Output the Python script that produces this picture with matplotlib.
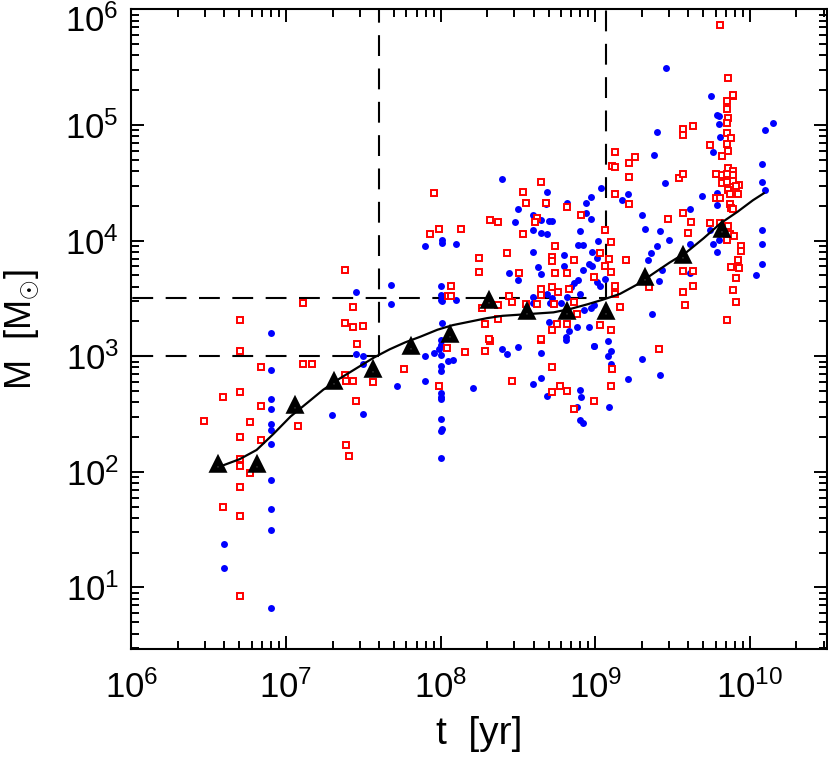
import numpy as np
import matplotlib
matplotlib.use("Agg")
import matplotlib.pyplot as plt
from matplotlib.ticker import LogLocator, NullFormatter, FuncFormatter

plt.rcParams['font.family'] = ['Liberation Sans', 'DejaVu Sans']
plt.rcParams['mathtext.fontset'] = 'custom'
plt.rcParams['mathtext.rm'] = 'Liberation Sans'
plt.rcParams['mathtext.it'] = 'Liberation Sans'

# log10(t/yr), log10(M/Msun)
blue_logt = [6.90, 6.90, 6.90, 6.90, 6.90, 6.90, 6.90, 6.90, 6.90, 6.90,
             6.60, 6.60, 7.45, 7.50, 7.50, 7.30, 7.50, 7.72, 7.90, 7.90, 7.96,
             8.00, 8.00, 8.00, 8.00, 8.00, 8.00, 8.00, 8.00, 8.01, 8.00,
             8.05, 8.08, 8.21,
             8.40, 8.43, 8.50, 8.65, 8.65, 8.60, 8.69, 8.90, 8.91, 8.88, 8.90, 8.92,
             8.99, 9.08, 9.10, 9.08, 9.10, 9.09, 9.21, 9.30, 9.42, 8.81,
             6.90, 7.45, 7.68, 7.68, 7.90, 8.01, 8.01, 8.10, 8.00, 8.00, 8.00, 8.01,
             8.10, 8.01, 8.00, 8.00, 7.99,
             9.46, 9.75, 9.79, 9.80, 9.80, 9.81, 10.15, 10.10, 9.40, 9.76, 9.38,
             10.08, 10.08, 10.10, 9.45, 9.69, 9.79, 9.79, 9.61, 9.30, 9.32, 9.42,
             9.48, 9.74, 9.76, 9.79, 9.61, 9.40, 9.36, 9.34, 9.43, 9.41, 9.37,
             10.08, 10.08, 10.08, 10.04,
             8.40, 8.69, 8.68, 8.50, 8.60, 8.65, 8.70, 8.72, 8.60, 8.65, 8.69, 8.48,
             8.82, 8.94, 8.97, 9.04, 9.21, 9.17, 8.91, 8.94, 8.97, 8.90, 8.89, 8.92,
             9.02, 8.98, 9.01, 8.80, 8.80, 8.60, 8.63, 8.65, 8.44, 8.50, 8.92, 8.98,
             8.96, 8.86, 8.89, 8.84, 8.82, 8.90, 9.03, 9.01, 9.06, 8.99, 8.97, 8.93,
             8.78, 8.72, 8.71, 8.69, 8.60, 8.60, 8.70, 8.83, 8.81, 8.88, 8.96, 8.99,
             9.80, 9.61]
blue_logm = [2.88, 2.63, 2.54, 2.41, 2.36, 2.24, 1.93, 1.68, 1.50, 0.82,
             1.38, 1.17, 3.02, 3.00, 2.93, 2.49, 2.50, 2.74, 2.79, 3.00, 3.03,
             3.01, 2.92, 2.87, 2.68, 2.65, 2.63, 2.46, 2.35, 2.37, 2.12,
             2.96, 2.97, 2.73,
             3.06, 3.02, 3.08, 3.03, 2.81, 2.76, 2.66, 2.71, 2.65, 2.56, 2.45, 2.42,
             3.09, 3.00, 3.05, 3.13, 2.93, 2.56, 2.80, 2.98, 2.84, 3.14,
             3.20, 3.56, 3.62, 3.45, 3.95, 4.01, 3.98, 3.97, 3.61, 3.53, 3.49, 3.48,
             3.49, 3.29, 3.14, 3.10, 3.06,
             5.49, 5.25, 5.09, 5.08, 5.01, 4.90, 5.02, 4.96, 4.94, 4.77, 4.74,
             4.66, 4.51, 4.44, 4.50, 4.39, 4.41, 4.31, 4.27, 4.22, 4.10, 4.08,
             4.01, 4.09, 3.97, 3.90, 3.97, 3.95, 3.89, 3.83, 3.75, 3.65, 3.37,
             4.09, 3.97, 3.80, 3.70,
             4.53, 4.42, 4.32, 4.27, 4.22, 4.18, 4.17, 4.17, 4.09, 4.07, 4.06, 4.16,
             4.33, 4.33, 4.38, 4.46, 4.40, 4.35, 4.22, 4.24, 4.19, 4.08, 3.96, 3.96,
             4.00, 3.90, 3.85, 3.88, 3.78, 3.90, 3.77, 3.71, 3.72, 3.66, 3.75, 3.78,
             3.80, 3.63, 3.66, 3.60, 3.51, 3.54, 3.61, 3.64, 3.67, 3.44, 3.42, 3.40,
             3.46, 3.50, 3.46, 3.54, 3.51, 3.46, 3.30, 3.22, 3.17, 3.25, 3.25, 3.09,
             4.01, 3.72]

red_logt = [6.47, 6.59, 6.70, 6.70, 6.70, 6.70, 6.70, 6.70, 6.70, 6.59, 6.77, 6.77,
            6.84, 6.84, 6.84, 6.70, 7.11, 7.17, 7.08, 7.38, 7.43, 7.39, 7.45, 7.39,
            7.41, 7.56, 7.46, 7.76, 7.99, 8.04, 8.16, 8.29,
            8.32, 8.65, 8.46, 8.72, 8.72, 8.77, 8.82, 8.86, 8.99, 9.11, 9.10, 9.41,
            7.96, 7.93, 7.99, 8.13, 8.25, 8.25, 8.32, 7.38, 7.11, 7.43, 6.70, 7.38,
            7.43, 7.50, 8.07, 8.05, 8.07, 8.27, 8.29, 8.31,
            9.81, 9.86, 9.89, 9.89, 9.85, 9.85, 9.86, 9.85, 9.57, 9.63, 9.57, 9.85,
            9.88, 9.85, 9.74, 9.86, 9.82,
            9.13, 9.26, 9.22, 9.11, 9.13, 9.22, 9.54, 9.57, 8.65, 9.13, 9.22, 8.53,
            8.55, 8.68, 8.82, 8.91, 8.62, 8.37, 8.61, 8.53, 9.47, 9.57, 9.62, 9.60,
            9.06, 9.10, 9.03, 9.09, 9.20, 9.06, 9.10, 8.99, 9.13, 9.13, 9.16, 9.03,
            9.10, 9.35, 9.57, 9.63, 9.57, 9.63, 9.58,
            8.43, 8.51, 8.72, 8.72, 8.74, 8.86, 8.74, 8.82, 8.44, 8.46, 8.37, 8.55,
            8.62, 8.65, 8.65, 8.72, 8.73, 8.76, 8.83, 8.86, 8.88, 8.37, 8.65, 8.72,
            8.75, 8.82,
            9.86, 9.89, 9.78, 9.82, 9.85, 9.89, 9.82, 9.85, 9.89, 9.93, 9.91, 9.86,
            9.92, 9.87, 9.78, 9.81, 9.87, 9.88, 9.89, 9.74, 9.81, 9.86, 9.87, 9.90,
            9.85, 9.94, 9.94, 9.92, 9.88, 9.93, 9.91, 9.89, 9.91, 9.85]
red_logm = [2.44, 2.65, 3.05, 2.69, 2.30, 2.11, 2.05, 1.87, 1.62, 1.70, 1.99, 2.43,
            2.91, 2.57, 2.28, 0.93, 2.93, 2.93, 2.40, 2.84, 2.79, 2.79, 2.61, 2.23,
            2.14, 2.78, 3.11, 2.89, 2.74, 3.07, 3.04, 3.05,
            3.13, 3.14, 2.79, 2.91, 2.69, 2.74, 2.70, 2.54, 2.61, 2.89, 2.74, 3.06,
            4.41, 4.06, 4.10, 4.10, 3.85, 3.73, 4.18, 3.75, 3.46, 3.43, 3.31, 3.29,
            3.25, 3.26, 3.61, 3.52, 3.52, 3.42, 3.28, 3.15,
            5.87, 5.41, 5.25, 5.26, 5.21, 5.14, 5.06, 5.02, 4.97, 4.99, 4.91, 4.93,
            4.89, 4.84, 4.83, 4.78, 4.73,
            4.77, 4.72, 4.67, 4.65, 4.64, 4.55, 4.54, 4.58, 4.51, 4.40, 4.32, 4.42,
            4.33, 4.33, 4.29, 4.22, 4.20, 4.16, 4.16, 4.06, 4.19, 4.24, 4.16, 4.07,
            4.09, 3.99, 3.89, 3.84, 3.83, 3.78, 3.73, 3.69, 3.61, 3.54, 3.43, 3.27,
            3.23, 3.60, 3.74, 3.74, 3.56, 3.61, 3.44,
            3.89, 3.72, 3.86, 3.82, 3.95, 3.83, 3.72, 3.72, 3.52, 3.47, 3.44, 3.45,
            3.45, 3.58, 3.53, 3.60, 3.45, 3.56, 3.58, 3.47, 3.37, 3.32, 3.15, 3.23,
            3.28, 3.28,
            4.63, 4.60, 4.58, 4.57, 4.58, 4.57, 4.50, 4.51, 4.52, 4.48, 4.47, 4.44,
            4.40, 4.40, 4.37, 4.37, 4.32, 4.28, 4.27, 4.15, 4.15, 4.13, 4.06, 4.04,
            4.01, 3.95, 3.91, 3.83, 3.77, 3.76, 3.68, 3.57, 3.47, 3.31]

# binned medians (triangles)
tri_logt = [6.56, 6.81, 7.06, 7.31, 7.56, 7.81, 8.06, 8.31, 8.56, 8.82, 9.07, 9.32, 9.57, 9.82]
tri_logm = [2.06, 2.06, 2.57, 2.78, 2.88, 3.08, 3.18, 3.48, 3.38, 3.38, 3.38, 3.68, 3.87, 4.09]

# smooth fit curve
fit_logt = [6.58, 6.70, 6.81, 6.92, 7.03, 7.14, 7.24, 7.35, 7.46, 7.57, 7.67, 7.77,
            7.87, 7.98, 8.08, 8.19, 8.30, 8.40, 8.51, 8.62, 8.73, 8.84, 8.95, 9.05,
            9.16, 9.27, 9.38, 9.48, 9.59, 9.70, 9.81, 9.92, 10.02, 10.09]
fit_logm = [2.05, 2.11, 2.19, 2.33, 2.48, 2.60, 2.71, 2.81, 2.90, 2.99, 3.06, 3.12,
            3.17, 3.23, 3.27, 3.30, 3.33, 3.35, 3.36, 3.37, 3.38, 3.41, 3.45, 3.49,
            3.54, 3.62, 3.72, 3.81, 3.90, 4.02, 4.15, 4.25, 4.35, 4.41]

t_cut = [4.0e7, 1.17e9]
m_cut = [1.0e3, 10**3.5]

fig = plt.figure(figsize=(8.29, 7.58), dpi=100)
ax = fig.add_axes([0.1585, 0.1438, 0.8395, 0.8437])

ax.plot(10**np.array(blue_logt), 10**np.array(blue_logm), 'o', color='#0000ff',
        ms=5.0, mec='none', ls='none', zorder=2)
ax.plot(10**np.array(red_logt), 10**np.array(red_logm), 's', mfc='white', mec='#ff0000',
        ms=4.7, mew=1.4, ls='none', zorder=3)

dash = dict(color='black', lw=1.5, dashes=(10, 6), zorder=1)
ax.plot([1e5, t_cut[0]], [m_cut[0], m_cut[0]], **dash)
ax.plot([t_cut[0], t_cut[0]], [m_cut[0], 1e7], **dash)
ax.plot([1e5, t_cut[1]], [m_cut[1], m_cut[1]], **dash)
ax.plot([t_cut[1], t_cut[1]], [m_cut[1], 1e7], **dash)

ax.plot(10**np.array(fit_logt), 10**np.array(fit_logm), '-', color='black', lw=1.6, zorder=4)
ax.plot(10**np.array(tri_logt), 10**np.array(tri_logm), '^', mfc='white', mec='black',
        ms=7, mew=4.0, ls='none', zorder=5)

ax.set_xscale('log')
ax.set_yscale('log')
ax.set_xlim(1e6, 10**10.501)
ax.set_ylim(10**0.468, 1e6)

xfmt = FuncFormatter(lambda v, pos: r'$10^{%d}$' % round(np.log10(v)))
# the top y label is drawn by hand below so it stays inside the figure
yfmt = FuncFormatter(lambda v, pos: '' if round(np.log10(v)) >= 6 else r'$10^{%d}$' % round(np.log10(v)))
for axis, fmt in ((ax.xaxis, xfmt), (ax.yaxis, yfmt)):
    axis.set_major_locator(LogLocator(base=10, numticks=20))
    axis.set_minor_locator(LogLocator(base=10, subs=np.arange(2, 10), numticks=20))
    axis.set_minor_formatter(NullFormatter())
    axis.set_major_formatter(fmt)

ax.tick_params(which='both', direction='in', top=True, right=True, width=1.4,
               labelsize=25, color='black')
ax.tick_params(which='major', length=9.5)
ax.tick_params(which='minor', length=5.5)
ax.tick_params(axis='x', which='major', pad=15)
ax.tick_params(axis='y', which='major', pad=9)
for s in ax.spines.values():
    s.set_linewidth(1.5)

ax.annotate(r'$10^{6}$', xy=(0, 1), xycoords='axes fraction', xytext=(-9, -9),
            textcoords='offset points', ha='right', va='center', fontsize=25)

ax.set_xlabel('t  [yr]', fontsize=28)
ax.xaxis.set_label_coords(0.5, -0.105)
ax.set_ylabel(r'M  [M$_{\odot}$]', fontsize=26)
ax.yaxis.set_label_coords(-0.13, 0.5)

fig.savefig('out.png', dpi=100)
